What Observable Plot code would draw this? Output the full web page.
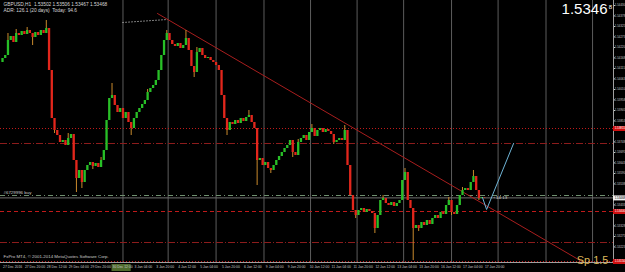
<!DOCTYPE html>
<html><head><meta charset="utf-8">
<script src="https://cdn.jsdelivr.net/npm/d3@7"></script>
<script src="https://cdn.jsdelivr.net/npm/@observablehq/plot@0.6"></script>
<style>html,body{margin:0;padding:0;background:#000;overflow:hidden}</style>
</head><body><div id="chart"></div>
<script>
// ---- data ----
const symbolHeader = "GBPUSD,H1  1.53502 1.53506 1.53467 1.53468";
const adrHeader = "ADR: 126.1 (20 days)  Today: 94.6";
const copyright = "FxPro MT4, \u00a9 2001-2014 MetaQuotes Software Corp.";
const orderLabel = "#6729996 buy";
const spreadLabel = "Sp 1.5";
const timerLabel = "\u2039 14:13";
const hoursPerBar = 2;
const hoursPerLabel = 16;
const firstOpen = 1.54145;
const closes = [
1.54165,1.54180,1.54255,1.54275,1.54245,1.54290,1.54280,1.54300,1.54285,1.54305,
1.54290,1.54270,1.54295,1.54280,1.54305,1.54290,1.54315,1.54105,1.53865,1.53805,
1.53780,1.53745,1.53755,1.53730,1.53765,1.53785,1.53655,1.53565,1.53605,1.53545,
1.53605,1.53630,1.53645,1.53625,1.53640,1.53620,1.53655,1.53705,1.53855,1.53965,
1.53980,1.53930,1.53895,1.53915,1.53865,1.53895,1.53845,1.53815,1.53865,1.53895,
1.53915,1.53935,1.53955,1.53995,1.54015,1.54030,1.54055,1.54105,1.54180,1.54255,
1.54290,1.54255,1.54235,1.54225,1.54240,1.54215,1.54230,1.54265,1.54205,1.54125,
1.54095,1.54195,1.54215,1.54180,1.54165,1.54170,1.54155,1.54145,1.54130,1.54105,
1.53980,1.53865,1.53805,1.53845,1.53835,1.53855,1.53840,1.53865,1.53850,1.53870,
1.53880,1.53845,1.53815,1.53655,1.53665,1.53630,1.53645,1.53615,1.53605,1.53630,
1.53655,1.53675,1.53695,1.53715,1.53730,1.53755,1.53695,1.53680,1.53745,1.53765,
1.53780,1.53755,1.53795,1.53815,1.53775,1.53805,1.53815,1.53795,1.53810,1.53800,
1.53785,1.53745,1.53755,1.53765,1.53755,1.53805,1.53630,1.53480,1.53405,1.53380,
1.53405,1.53415,1.53395,1.53410,1.53400,1.53390,1.53315,1.53380,1.53455,1.53465,
1.53440,1.53430,1.53445,1.53425,1.53440,1.53455,1.53555,1.53595,1.53455,1.53415,
1.53315,1.53330,1.53315,1.53345,1.53330,1.53355,1.53335,1.53365,1.53380,1.53365,
1.53395,1.53385,1.53430,1.53455,1.53395,1.53385,1.53430,1.53480,1.53505,1.53515,
1.53505,1.53545,1.53575,1.53505,1.53465,1.53470,1.53468
];
const wickHighs = {2:1.54290,5:1.54310,9:1.54320,16:1.54355,24:1.53790,36:1.53670,40:1.54040,53:1.54010,60:1.54305,67:1.54305,71:1.54220,90:1.53905,108:1.53760,113:1.53835,125:1.53830,139:1.53480,147:1.53615,163:1.53470,168:1.53520,172:1.53605};
const wickLows  = {11:1.54230,19:1.53790,27:1.53495,29:1.53515,33:1.53610,47:1.53780,70:1.54070,82:1.53780,93:1.53530,98:1.53590,106:1.53670,121:1.53735,129:1.53365,136:1.53290,150:1.53155,152:1.53300,164:1.53380,174:1.53455};
const timeLabels = ["27 Dec 2016","27 Dec 20:00","28 Dec 12:00","29 Dec 04:00","29 Dec 20:00","30 Dec 12:00","3 Jan 04:00","3 Jan 20:00","4 Jan 12:00","5 Jan 04:00","5 Jan 20:00","6 Jan 12:00","9 Jan 04:00","9 Jan 20:00","10 Jan 12:00","11 Jan 04:00","11 Jan 20:00","12 Jan 12:00","13 Jan 04:00","13 Jan 20:00","16 Jan 12:00","17 Jan 04:00","17 Jan 20:00"];
const highlightedLabel = 5;
const priceTicks = [1.54430,1.54378,1.54325,1.54273,1.54220,1.54168,1.54115,1.54063,1.54010,1.53958,1.53905,1.53853,1.53800,1.53748,1.53695,1.53643,1.53590,1.53538,1.53485,1.53433,1.53380,1.53328,1.53275,1.53223,1.53170];
const separatorHours = [88,121,156,191,225,259,293,328,362,397,431];
const levelPrices = [1.53815,1.53740,1.53480,1.53400,1.53245,1.53150];
const levelKinds  = ["dotted","dashdot","order","dashed","dashdot","dotted"];
const taggedLevels = [1.53815,1.53400,1.53150];
const trendLine = [{t:113.2,p:1.54390},{t:424.4,p:1.53145}];
const dottedLine = [{t:87.7,p:1.54345},{t:120.5,p:1.54360}];
const projection = [{t:350.6,p:1.53470},{t:353.6,p:1.53410},{t:373.3,p:1.53740}];
const xDomain = [-1.46, 446.3];
const yDomain = [1.53145, 1.54455];

// ---- build ----
const bars = closes.map((c, i) => {
  const o = i ? closes[i - 1] : firstOpen;
  return {t: i * hoursPerBar, o, c,
    h: wickHighs[i] ?? Math.max(o, c),
    l: wickLows[i] ?? Math.min(o, c)};
});
const last = bars[bars.length - 1];
const bid = last.c;
const timeTicks = timeLabels.map((label, i) => ({t: i * hoursPerLabel, label}));
const levelStyle = {
  dotted:  {stroke: "#c01a1a", strokeDasharray: "1,2"},
  dashdot: {stroke: "#8c1c1c", strokeDasharray: "7,2,1,2"},
  dashed:  {stroke: "#c01a1a", strokeDasharray: "4,3"},
  order:   {stroke: "#6f8f6f", strokeDasharray: "5,3,1,3"}
};
const levels = levelPrices.map((p, i) => ({p, kind: levelKinds[i]}));
const tags = [...taggedLevels, bid];
const shownTicks = priceTicks.filter(v => tags.every(t => Math.abs(t - v) > 0.00025));
const UP = "#27c027", DOWN = "#e3261c", WICK = "#c98a2c";
const AX = "#c8c8c8";
const bidStr = bid.toFixed(5);
const FS = 2.9;

const chart = Plot.plot({
  width: 625, height: 272,
  marginLeft: 0, marginRight: 12, marginTop: 0, marginBottom: 10,
  x: {domain: xDomain, axis: null},
  y: {domain: yDomain},
  style: {background: "#000", color: AX, fontFamily: "Liberation Sans, DejaVu Sans, sans-serif", overflow: "visible"},
  marks: [
    Plot.ruleX(separatorHours, {stroke: "#5c5c5c", strokeWidth: 1}),
    ...Object.keys(levelStyle).map(k =>
      Plot.ruleY(levels.filter(d => d.kind === k), {y: "p", strokeWidth: 1, ...levelStyle[k]})),
    Plot.ruleY([bid], {stroke: "#707070", strokeWidth: 1}),
    Plot.line(dottedLine, {x: "t", y: "p", stroke: "#8a8a8a", strokeDasharray: "1,2", strokeWidth: 1}),
    Plot.line(trendLine, {x: "t", y: "p", stroke: "#a81e1e", strokeWidth: 1}),
    Plot.ruleX(bars, {x: "t", y1: "l", y2: "h", stroke: WICK, strokeWidth: 1}),
    Plot.ruleX(bars, {x: "t", y1: "o", y2: "c", stroke: d => d.c >= d.o ? UP : DOWN, strokeWidth: 2.3}),
    Plot.line(projection, {x: "t", y: "p", stroke: "#6fb4d6", strokeWidth: 1}),
    Plot.text([last], {x: "t", y: "c", text: () => timerLabel, dx: 9, textAnchor: "start", fontSize: 4.4, fill: "#d0d0d0"}),
    // axes lines
    Plot.ruleX([xDomain[1]], {stroke: "#a0a0a0"}),
    Plot.ruleY([yDomain[0]], {stroke: "#a0a0a0"}),
    Plot.axisY(shownTicks, {anchor: "right", tickSize: 1, tickPadding: 0.3, fontSize: FS, tickFormat: d => d.toFixed(5), color: AX}),
    // price tags
    Plot.ruleY(taggedLevels, {y: d => d, x1: xDomain[1], x2: xDomain[1] + 12, stroke: "#d01010", strokeWidth: 5}),
    Plot.text(taggedLevels, {y: d => d, x: xDomain[1], text: d => d.toFixed(5), dx: 1.2, textAnchor: "start", fontSize: FS, fill: "#fff"}),
    Plot.ruleY([bid], {x1: xDomain[1], x2: xDomain[1] + 12, stroke: "#f0f0f0", strokeWidth: 5}),
    Plot.text([bid], {y: d => d, x: xDomain[1], text: d => d.toFixed(5), dx: 1.2, textAnchor: "start", fontSize: FS, fill: "#000"}),
    // time axis
    Plot.ruleY([yDomain[0]], {x1: timeTicks[highlightedLabel].t, x2: timeTicks[highlightedLabel + 1].t - 2, dy: 5, stroke: "#4e6a2c", strokeWidth: 7}),
    Plot.text(timeTicks, {x: "t", text: "label", frameAnchor: "bottom", textAnchor: "start", lineAnchor: "top", dy: 3, dx: 0.5, fontSize: 3.4, fill: AX}),
    // texts
    Plot.text([symbolHeader], {frameAnchor: "top-left", dx: 3, dy: 2, lineAnchor: "top", textAnchor: "start", fontSize: 4.8, fill: "#d8d8d8"}),
    Plot.text([adrHeader], {frameAnchor: "top-left", dx: 3, dy: 8, lineAnchor: "top", textAnchor: "start", fontSize: 4.8, fill: "#d8d8d8"}),
    Plot.text([bidStr.slice(0, 6)], {frameAnchor: "top-right", dx: -6, dy: 3, lineAnchor: "top", textAnchor: "end", fontSize: 15, fill: "#ffffff"}),
    Plot.text([bidStr.slice(6)], {frameAnchor: "top-right", dx: -1.5, dy: 4, lineAnchor: "top", textAnchor: "end", fontSize: 6, fill: "#ffffff"}),
    Plot.text([orderLabel], {x: xDomain[0], y: () => levelPrices[2], dx: 3, dy: -3, textAnchor: "start", fontSize: 4.4, fill: "#c8c8c8"}),
    Plot.text([copyright], {frameAnchor: "bottom-left", dx: 3, dy: -5, lineAnchor: "bottom", textAnchor: "start", fontSize: 4.4, fill: "#c8c8c8"}),
    Plot.text([spreadLabel], {frameAnchor: "bottom-right", dx: -5, dy: 1, lineAnchor: "bottom", textAnchor: "end", fontSize: 11, fill: "#dcb85a"})
  ]
});
document.getElementById("chart").appendChild(chart);
</script>
</body></html>
